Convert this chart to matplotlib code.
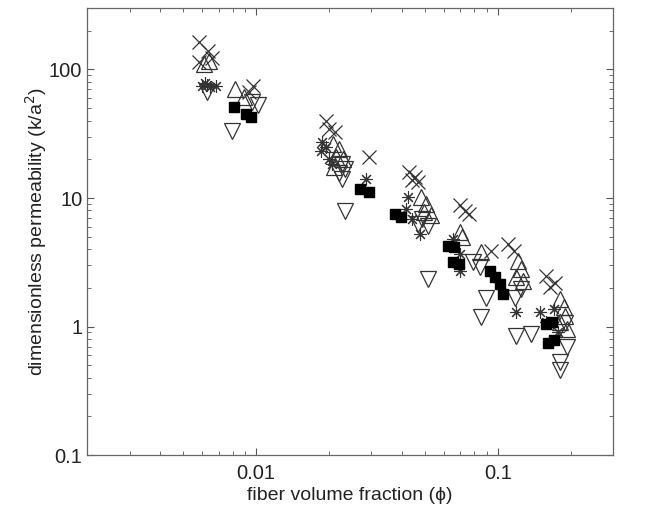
import matplotlib
matplotlib.use("Agg")
import matplotlib.pyplot as plt
import numpy as np

plt.rcParams['font.family'] = ['Liberation Sans', 'DejaVu Sans']

# crosses
cross_phi = [0.00583, 0.00635, 0.00659, 0.00583, 0.00972, 0.00936,
             0.0194, 0.0200, 0.0213, 0.0294,
             0.0430, 0.0443, 0.0469, 0.0455,
             0.0698, 0.0732, 0.0760, 0.0936, 0.110, 0.1164,
             0.159, 0.172, 0.164]
cross_k = [165, 138, 122, 115, 74, 67,
           40, 34.6, 32.8, 20.9,
           16.0, 13.8, 13.3, 14.6,
           8.8, 7.9, 7.5, 3.85, 4.37, 3.85,
           2.46, 2.17, 2.05]

# asterisks
star_phi = [0.0060, 0.00629, 0.00647, 0.00684, 0.00617,
            0.0187, 0.0185, 0.0194, 0.0200, 0.0206, 0.0286,
            0.0426, 0.0418, 0.0443, 0.0477,
            0.0653, 0.0698, 0.0698, 0.1186,
            0.149, 0.159, 0.170, 0.177]
star_k = [75, 76, 73.6, 75, 79,
          27.4, 23.3, 25.0, 20.2, 18.4, 14.1,
          10.2, 8.2, 6.85, 5.23,
          4.78, 3.65, 2.69, 1.31,
          1.29, 1.09, 1.36, 0.90]

# up triangles
up_phi = [0.00611, 0.00641, 0.0082, 0.00892,
          0.0209, 0.0220, 0.0215, 0.0228, 0.0211,
          0.0482, 0.0505, 0.0496, 0.0530,
          0.0698, 0.0711, 0.0851, 0.1208, 0.1244, 0.1186, 0.1267,
          0.1816, 0.187, 0.1888, 0.194, 0.180]
up_k = [111, 117, 70, 61.5,
        26.4, 24.1, 20.9, 20.2, 17.5,
        10.2, 9.0, 7.8, 7.36,
        5.43, 4.96, 3.79, 3.22, 2.79, 2.41, 2.25,
        1.63, 1.41, 1.20, 0.95, 1.09]

# down triangles
down_phi = [0.00629, 0.00963, 0.0102, 0.00797,
            0.0226, 0.0234, 0.0226, 0.0234, 0.0220,
            0.0469, 0.0515, 0.0486, 0.0515,
            0.0843, 0.0893, 0.1175, 0.0851, 0.1244, 0.0789,
            0.1186, 0.1367, 0.180, 0.1816, 0.194, 0.1905]
down_k = [67, 56, 53, 33.4,
          18.4, 16.8, 14.1, 7.9, 15.7,
          6.26, 6.04, 6.85, 2.33,
          2.89, 1.68, 1.68, 1.18, 1.95, 3.16,
          0.84, 0.87, 0.53, 0.46, 0.69, 1.07]

# filled squares
sq_phi = [0.0081, 0.0091, 0.00954,
          0.0270, 0.0292,
          0.0377, 0.0399,
          0.0622, 0.0659, 0.0653, 0.0691, 0.0927, 0.0972, 0.1019, 0.1049,
          0.1576, 0.1683, 0.1606, 0.170]
sq_k = [51.4, 45.3, 42.9,
        11.8, 11.1,
        7.5, 7.1,
        4.22, 4.14, 3.16, 3.05, 2.69, 2.41, 2.13, 1.78,
        1.05, 1.09, 0.75, 0.78]

fig = plt.figure(figsize=(6.6, 5.08), dpi=100)
ax = fig.add_axes([0.132, 0.104, 0.797, 0.880])

mc = '#333333'
ax.plot(cross_phi, cross_k, 'x', ms=9.5, mew=0.9, color=mc, ls='none')
ax.plot(star_phi, star_k, ls='none', marker=(8, 2, 0), ms=9, mew=0.8, color=mc)
ax.plot(up_phi, up_k, '^', ms=11, mew=0.9, mfc='none', mec=mc, ls='none')
ax.plot(down_phi, down_k, 'v', ms=11, mew=0.9, mfc='none', mec=mc, ls='none')
ax.plot(sq_phi, sq_k, 's', ms=7, color='black', ls='none')

ax.set_xscale('log')
ax.set_yscale('log')
ax.set_xlim(0.002, 0.3)
ax.set_ylim(0.1, 300)
ax.set_xticks([0.01, 0.1])
ax.set_xticklabels(['0.01', '0.1'])
ax.set_yticks([0.1, 1, 10, 100])
ax.set_yticklabels(['0.1', '1', '10', '100'])
ax.tick_params(which='both', direction='in', top=True, right=True,
               labelsize=14.5, colors='#555555', labelcolor='#222222')
ax.tick_params(which='major', length=5, width=0.8)
ax.tick_params(axis='x', which='major', pad=6)
ax.tick_params(which='minor', length=3, width=0.6)
for s in ax.spines.values():
    s.set_color('#666666')
    s.set_linewidth(0.9)

ax.set_xlabel('fiber volume fraction (\u03d5)', fontsize=14, color='#222222', labelpad=3)
ax.set_ylabel('dimensionless permeability (k/a$^2$)', fontsize=14, color='#222222', labelpad=0)

fig.savefig('out.png', dpi=100)
